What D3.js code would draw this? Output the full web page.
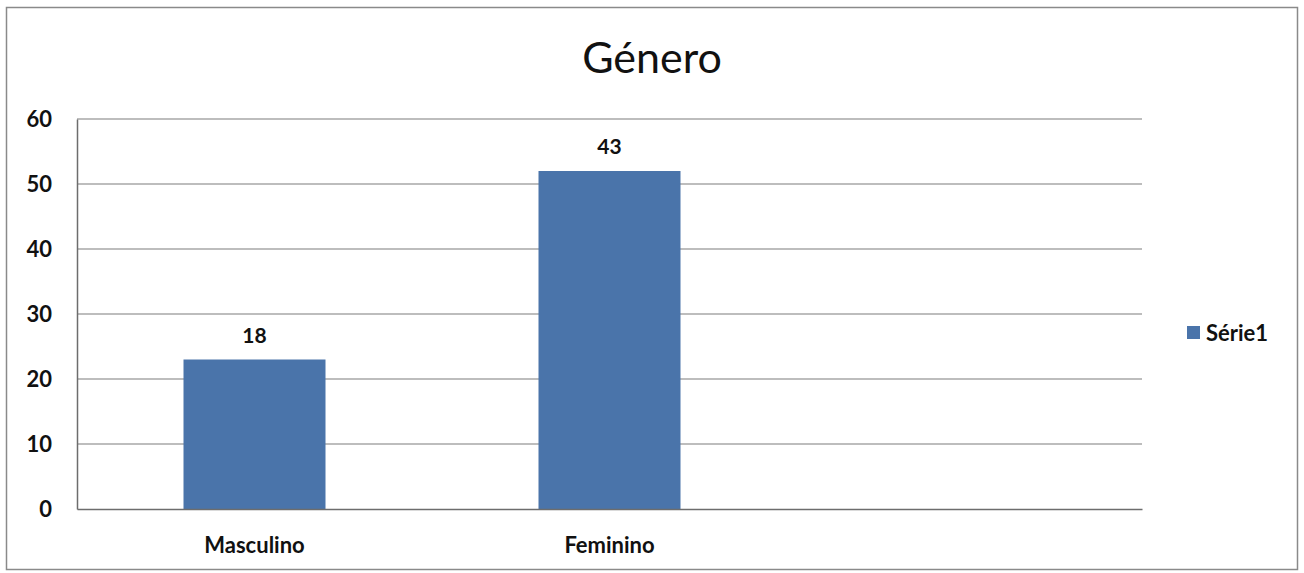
<!DOCTYPE html>
<html><head><meta charset="utf-8">
<script src="https://cdn.jsdelivr.net/npm/d3@7"></script>
<style>body{margin:0;background:#fff}svg{display:block}text{font-family:Lato,"Open Sans",sans-serif;fill:#111}</style>
</head><body>
<svg id="c" width="1304" height="573"></svg>
<script>
const title = "Género";
const categories = ["Masculino", "Feminino", ""];
const barHeights = [23, 52, null];      // drawn bar heights as pictured
const dataLabels = ["18", "43", null];  // printed data labels as pictured
const yTicks = [0, 10, 20, 30, 40, 50, 60];
const seriesName = "Série1";

const svg = d3.select("#c");
const m = {l: 77, r: 1142, t: 119, b: 509};
const x = d3.scaleBand().domain(categories).range([m.l, m.r]).paddingInner(0.6).paddingOuter(0.3);
const y = d3.scaleLinear().domain([0, 60]).range([m.b, m.t]);

// frame
svg.append("rect").attr("x", 6.5).attr("y", 7.5).attr("width", 1291).attr("height", 562)
  .attr("fill", "none").attr("stroke", "#8a8a8a").attr("stroke-width", 1.5);

// title
svg.append("text").attr("x", 652).attr("y", 73).attr("text-anchor", "middle")
  .style("font-size", "43px").text(title);

// gridlines
svg.append("g").selectAll("line").data(yTicks.filter(d => d > 0)).join("line")
  .attr("x1", m.l).attr("x2", m.r).attr("y1", d => y(d)).attr("y2", d => y(d))
  .attr("stroke", "#7d7d7d").attr("stroke-width", 1.2);

// y axis
const ya = svg.append("g").attr("transform", `translate(${m.l},0)`)
  .call(d3.axisLeft(y).tickValues(yTicks).tickSize(0).tickPadding(25));
ya.select(".domain").attr("stroke", "#6d6d6d").attr("stroke-width", 1.5);
ya.selectAll("text").style("font-size", "22px").style("font-weight", "bold")
  .style("font-family", "Lato,sans-serif").attr("fill", "#111");

// bars
const idx = d3.range(categories.length).filter(i => barHeights[i] != null);
svg.append("g").selectAll("rect").data(idx).join("rect")
  .attr("x", i => x(categories[i])).attr("width", x.bandwidth())
  .attr("y", i => y(barHeights[i])).attr("height", i => y(0) - y(barHeights[i]))
  .attr("fill", "#4a74aa");

// x axis
const xa = svg.append("g").attr("transform", `translate(0,${m.b})`)
  .call(d3.axisBottom(x).tickSize(0).tickPadding(28));
xa.select(".domain").attr("stroke", "#6d6d6d").attr("stroke-width", 1.5);
xa.selectAll("text").style("font-size", "22px").style("font-weight", "bold")
  .style("font-family", "Lato,sans-serif").attr("fill", "#111");

// data labels
svg.append("g").selectAll("text").data(idx).join("text")
  .attr("x", i => x(categories[i]) + x.bandwidth() / 2)
  .attr("y", i => y(barHeights[i]) - 17).attr("text-anchor", "middle")
  .style("font-size", "21px").style("font-weight", "bold").text(i => dataLabels[i]);

// legend
svg.append("rect").attr("x", 1187).attr("y", 326).attr("width", 13).attr("height", 13).attr("fill", "#4a74aa");
svg.append("text").attr("x", 1206).attr("y", 341).style("font-size", "22px").style("font-weight", "bold").text(seriesName);
</script>
</body></html>
